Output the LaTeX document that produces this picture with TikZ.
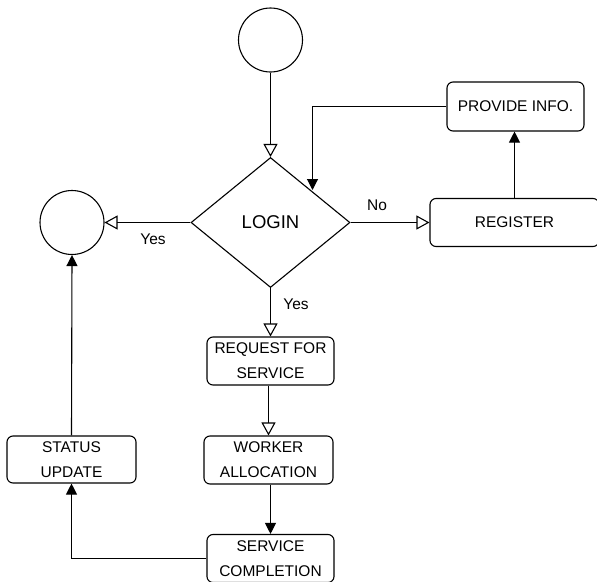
\documentclass[tikz,border=0pt]{standalone}
\usepackage{fontspec}
\setmainfont{Liberation Sans}
\usetikzlibrary{shapes.geometric,arrows.meta}
\tikzset{
  every path/.style={line width=1.1pt},
  box/.style={draw, rounded corners=6pt, align=center, inner sep=0pt,
    font=\fontsize{15.5}{25}\selectfont},
  terminal/.style={draw, circle, minimum size=64pt, inner sep=0pt},
  decision/.style={draw, diamond, minimum width=159pt, minimum height=130pt, inner sep=0pt,
    font=\fontsize{18.5}{22}\selectfont},
  openarr/.style={-{Triangle[open,length=13pt,width=14pt]}},
  fillarr/.style={-{Triangle[length=11pt,width=11pt]}},
  lbl/.style={font=\fontsize{15.5}{18}\selectfont, inner sep=0pt}
}
\begin{document}
\begin{tikzpicture}[x=1pt,y=-1pt]
\useasboundingbox (0,0) rectangle (597,581);
\node[terminal] (start) at (270.5,40) {};
\node[decision] (login) at (270.5,222.5) {LOGIN};
\node[terminal] (done) at (72,222.5) {};
\node[box, minimum width=169pt, minimum height=48pt] (register) at (514.5,222.5) {REGISTER};
\node[box, minimum width=137pt, minimum height=49pt] (provide) at (515.5,106.5) {PROVIDE INFO.};
\node[box, minimum width=127pt, minimum height=48pt] (request) at (270.5,361) {REQUEST FOR\\SERVICE};
\node[box, minimum width=129pt, minimum height=48pt] (worker) at (268.5,460) {WORKER\\ALLOCATION};
\node[box, minimum width=127pt, minimum height=48pt] (completion) at (270.5,558.5) {SERVICE\\COMPLETION};
\node[box, minimum width=129pt, minimum height=47pt] (status) at (71.5,459.5) {STATUS\\UPDATE};
\coordinate (ret) at (312.5,190);

\draw[openarr] (start.south) -- (start.south |- login.north);
\draw[openarr] (login.west) -- (done.east);
\node[lbl] (yes1) at (153,239) {Yes};
\draw[openarr] (login.east) -- (register.west);
\node[lbl] (no) at (377,205) {No};
\draw[fillarr] (register.north) -- (register.north |- provide.south);
\draw[fillarr] (provide.west) -| (ret);
\draw[openarr] (login.south) -- (login.south |- request.north);
\node[lbl] (yes2) at (296,304) {Yes};
\draw[openarr] (worker.north |- request.south) -- (worker.north);
\draw[fillarr] (worker.south -| 270.5,0) -- (completion.north -| 270.5,0);
\draw[fillarr] (completion.west) -| (status.south);
\draw[fillarr] (status.north) -- (done.south);
\end{tikzpicture}
\end{document}
